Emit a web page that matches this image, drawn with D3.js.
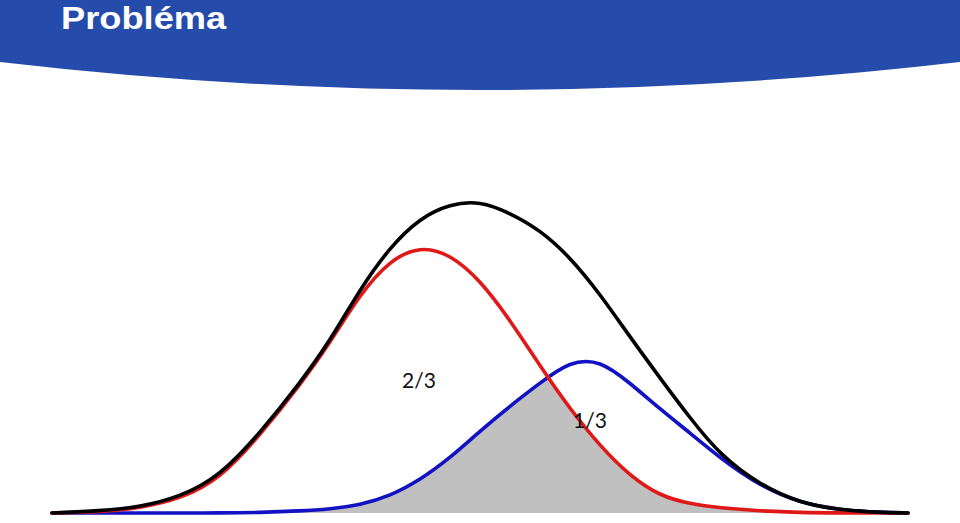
<!DOCTYPE html>
<html>
<head>
<meta charset="utf-8">
<script src="https://cdn.jsdelivr.net/npm/d3@7"></script>
<style>
  html, body { margin: 0; padding: 0; background: #fff; }
  svg { display: block; }
</style>
</head>
<body>
<svg id="chart" width="960" height="523"></svg>
<script>
// ---- data ----
const title = "Probléma";
const xs      = [-4.28, -3.8, -3.4, -3.0, -2.6, -2.2, -1.8, -1.5, -1.2, -0.9, -0.6, -0.3, 0, 0.3, 0.6, 0.9, 1.2, 1.5, 1.8, 2.1, 2.4, 2.8, 3.2, 3.6, 4.0, 4.28];
const mixture = [0, 0.02, 0.06, 0.16, 0.37, 0.80, 1.30, 1.72, 2.24, 2.66, 2.95, 3.09, 3.12, 3.00, 2.83, 2.56, 2.19, 1.76, 1.35, 0.95, 0.58, 0.28, 0.10, 0.03, 0.005, 0];
const compA   = [0, 0.01, 0.05, 0.14, 0.34, 0.78, 1.28, 1.70, 2.19, 2.53, 2.67, 2.59, 2.33, 1.93, 1.47, 1.04, 0.67, 0.37, 0.17, 0.09, 0.05, 0.02, 0.005, 0, 0, 0];
const compB   = [0, 0, 0, 0, 0, 0.005, 0.02, 0.04, 0.08, 0.17, 0.33, 0.55, 0.82, 1.07, 1.30, 1.52, 1.53, 1.30, 1.04, 0.80, 0.55, 0.27, 0.10, 0.03, 0.005, 0];
const labels = ["2/3", "1/3"];

// ---- layout ----
const svg = d3.select("#chart");

// header band
svg.append("path")
  .attr("d", "M0,0 H960 V62 Q480,118 0,62 Z")
  .attr("fill", "#264CAB");

svg.append("text")
  .attr("transform", "translate(61,29) scale(1.17,1)")
  .attr("fill", "#ffffff")
  .attr("font-family", "'Liberation Sans', Arial, sans-serif")
  .attr("font-weight", "bold")
  .attr("font-size", 31)
  .text(title);

const x = d3.scaleLinear().domain([-4.28, 4.28]).range([52, 908]);
const y = d3.scaleLinear().domain([0, 5.13]).range([513, 0]);

const rows = xs.map((v, i) => ({ x: v, m: mixture[i], a: compA[i], b: compB[i] }));
const curve = d3.curveBasis;

const areaOf = key => d3.area()
  .x(d => x(d.x))
  .y0(y(0))
  .y1(d => y(d[key]))
  .curve(curve);

// overlap region: area under A clipped by area under B
const defs = svg.append("defs");
defs.append("clipPath").attr("id", "clipB")
  .append("path").datum(rows).attr("d", areaOf("b"));

svg.append("path")
  .datum(rows)
  .attr("d", areaOf("a"))
  .attr("fill", "#C0C0C0")
  .attr("clip-path", "url(#clipB)");

const line = key => d3.line()
  .x(d => x(d.x))
  .y(d => y(d[key]))
  .curve(curve);

const styles = [
  { key: "b", color: "#1212C4" },
  { key: "a", color: "#E01818" },
  { key: "m", color: "#000000" }
];
styles.forEach(s => {
  svg.append("path")
    .datum(rows)
    .attr("d", line(s.key))
    .attr("fill", "none")
    .attr("stroke", s.color)
    .attr("stroke-width", 3.6)
    .attr("stroke-linecap", "round")
    .attr("stroke-linejoin", "round");
});

// labels
const labelPos = [{ x: -0.78, y: 1.25 }, { x: 0.93, y: 0.85 }];
labels.forEach((t, i) => {
  svg.append("text")
    .attr("x", x(labelPos[i].x))
    .attr("y", y(labelPos[i].y))
    .attr("fill", "#111")
    .attr("font-family", "Lato, 'Open Sans', sans-serif")
    .attr("font-size", 21)
    .text(t);
});
</script>
</body>
</html>
